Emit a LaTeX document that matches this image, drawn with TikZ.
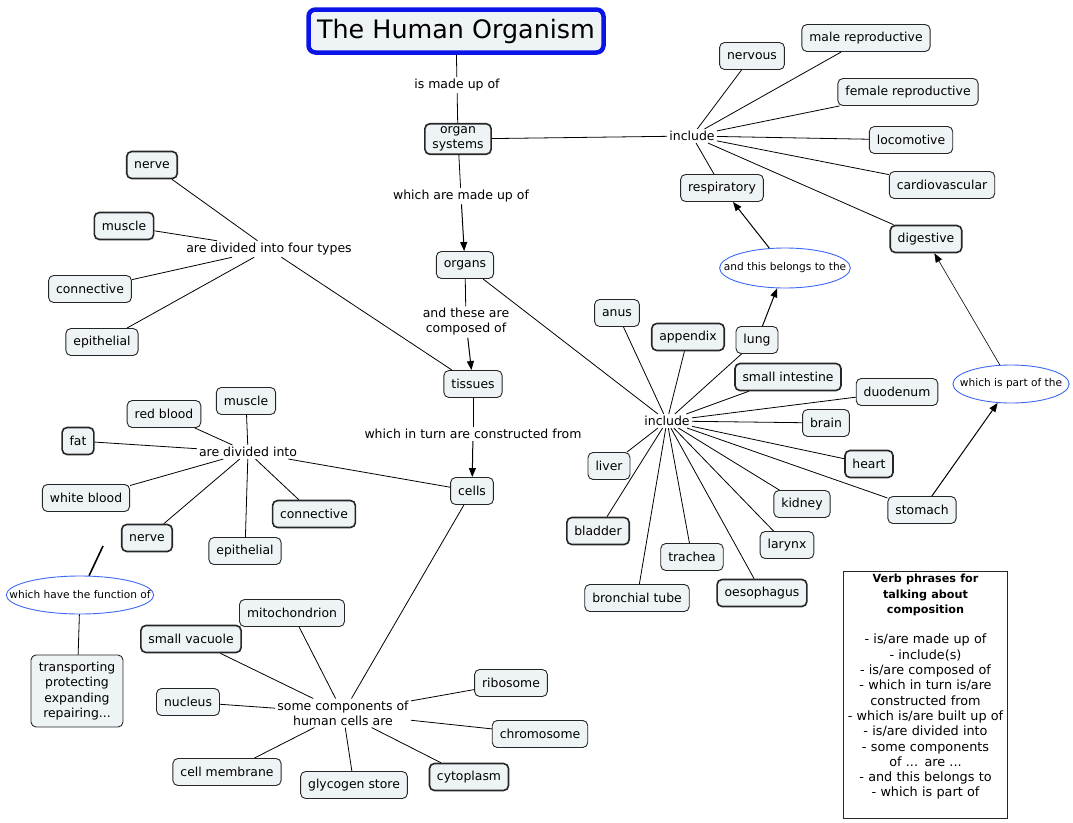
\documentclass[tikz,border=0pt]{standalone}
\usepackage{fontspec}
\setmainfont{DejaVu Sans}
\usetikzlibrary{arrows.meta,shapes.geometric}
\definecolor{boxfill}{HTML}{EEF3F6}
\definecolor{titleblue}{HTML}{0A14E6}
\definecolor{ellblue}{HTML}{3F68F2}
\begin{document}
\begin{tikzpicture}[x=1pt,y=-1pt,
  concept/.style={draw=black!85, fill=boxfill, rounded corners=5pt, line width=0.9pt,
    inner xsep=7.5pt, inner ysep=3pt, minimum height=27pt,
    font=\fontsize{12.4}{15}\selectfont, align=center},
  heavy/.style={line width=1.6pt},
  phrase/.style={inner sep=2pt, font=\fontsize{12.5}{15}\selectfont, align=center},
  ell/.style={ellipse, draw=ellblue, line width=0.9pt, inner ysep=2pt,
    font=\fontsize{10.6}{12}\selectfont},
  link/.style={line width=0.8pt},
  arr/.style={line width=1pt, -{Triangle[length=9pt,width=7pt]}},
  thinarr/.style={line width=0.6pt, -{Triangle[length=9pt,width=7pt]}},
  titlebox/.style={draw=titleblue, line width=4.5pt, fill=boxfill, rounded corners=7pt,
    minimum width=295pt, minimum height=43pt, font=\fontsize{25.4}{30}\selectfont}]
\useasboundingbox (0,0) rectangle (1073,822);

% main spine
\node[titlebox] (title) at (456,31) {The Human Organism};
\node[phrase] (p1) at (457,85) {is made up of};
\node[concept,heavy] (os) at (458,139) {organ\\systems};
\node[phrase] (p2) at (461,196) {which are made up of};
\node[concept] (organs) at (465,265) {organs};
\node[phrase] (p3) at (466,322) {and these are\\composed of};
\node[concept] (tissues) at (473,384) {tissues};
\node[phrase] (p4) at (473,434) {which in turn are constructed from};
\node[concept] (cells) at (472,491) {cells};

% organ systems
\node[phrase] (inc1) at (692,136) {include};
\node[concept] (nervous) at (752,56) {nervous};
\node[concept] (male) at (866,38) {male reproductive};
\node[concept] (female) at (908,92) {female reproductive};
\node[concept] (loco) at (911,140) {locomotive};
\node[concept] (cardio) at (942,185) {cardiovascular};
\node[concept] (resp) at (722,188) {respiratory};
\node[concept,heavy] (dig) at (926,239) {digestive};
\node[ell, inner xsep=-15pt, minimum height=40pt] (ell1) at (785,268) {and this belongs to the};
\node[ell, inner xsep=-10pt, minimum height=38pt] (ell2) at (1011,384) {which is part of the};

% organs
\node[phrase] (inc2) at (667,421) {include};
\node[concept] (anus) at (617,313) {anus};
\node[concept,heavy] (appendix) at (688,337) {appendix};
\node[concept] (lung) at (757,340) {lung};
\node[concept,heavy] (smallint) at (788,377) {small intestine};
\node[concept] (duod) at (897,392) {duodenum};
\node[concept] (brain) at (826,423) {brain};
\node[concept,heavy] (heart) at (869,464) {heart};
\node[concept] (stomach) at (922,510) {stomach};
\node[concept] (kidney) at (802,504) {kidney};
\node[concept] (larynx) at (787,545) {larynx};
\node[concept,heavy] (oeso) at (762,593) {oesophagus};
\node[concept] (trachea) at (692,557) {trachea};
\node[concept] (bronch) at (637,598) {bronchial tube};
\node[concept,heavy] (bladder) at (598,531) {bladder};
\node[concept] (liver) at (609,466) {liver};

% tissues
\node[phrase] (p5) at (269,249) {are divided into four types};
\node[concept,heavy] (tnerve) at (152,165) {nerve};
\node[concept,heavy] (tmuscle) at (124,226) {muscle};
\node[concept] (tconn) at (90,289) {connective};
\node[concept] (tepi) at (102,342) {epithelial};

% cells divided
\node[phrase] (p6) at (248,452) {are divided into};
\node[concept] (cmuscle) at (246,401) {muscle};
\node[concept] (redblood) at (164,414) {red blood};
\node[concept,heavy] (fat) at (78,441) {fat};
\node[concept] (white) at (86,498) {white blood};
\node[concept,heavy] (cnerve) at (147,538) {nerve};
\node[concept] (cepi) at (245,551) {epithelial};
\node[concept,heavy] (cconn) at (314,514) {connective};
\coordinate (stub) at (103,546);
\node[ell, inner xsep=-18.5pt, minimum height=38pt] (ell3) at (80,595) {which have the function of};
\node[concept, inner xsep=2pt, minimum width=92pt, minimum height=72pt, font=\fontsize{12.4}{15.3}\selectfont] (func) at (77,691) {transporting\\protecting\\expanding\\repairing...};

% cell components
\node[phrase] (p7) at (343,713) {some components of\\human cells are};
\node[concept] (mito) at (292,613) {mitochondrion};
\node[concept,heavy] (vacuole) at (191,639) {small vacuole};
\node[concept] (nucleus) at (188,702) {nucleus};
\node[concept] (ribo) at (511,683) {ribosome};
\node[concept] (chromo) at (540,734) {chromosome};
\node[concept] (membrane) at (227,772) {cell membrane};
\node[concept] (glyco) at (354,785) {glycogen store};
\node[concept,heavy] (cyto) at (469,777) {cytoplasm};

% legend
\node[draw=black!85, line width=1.2pt, minimum width=164pt, minimum height=247pt] (legend) at (925.5,695) {};
\node[anchor=north, inner sep=0pt, text width=164pt, align=center,
  font=\fontsize{12.8}{15.3}\selectfont] (legendtext) at (925.5,574)
  {{\fontsize{11.2}{15.3}\selectfont\bfseries Verb phrases for\\talking about\\composition}\\[15.3pt]
   - is/are made up of\\- include(s)\\- is/are composed of\\- which in turn is/are\\constructed from\\- which is/are built up of\\- is/are divided into\\- some components\\of ... are ...\\- and this belongs to\\- which is part of};

% connectors: spine
\draw[link] (title) -- (p1);
\draw[link] (p1) -- (os);
\draw[link] (os) -- (p2);
\draw[arr] (p2) -- (organs);
\draw[link] (organs) -- (p3);
\draw[arr] (p3) -- (tissues);
\draw[link] (tissues) -- (p4);
\draw[arr] (p4) -- (cells);

% organ systems
\draw[link] (os) -- (inc1);
\foreach \n in {nervous,male,female,loco,cardio,resp,dig} \draw[link] (inc1) -- (\n);
\draw[arr] (ell1) -- (resp);
\draw[arr] (lung) -- (ell1);
\draw[arr] (stomach) -- (ell2);
\draw[thinarr] (ell2) -- (dig);

% organs
\draw[link] (organs) -- (inc2);
\foreach \n in {anus,appendix,lung,smallint,duod,brain,heart,stomach,kidney,larynx,oeso,trachea,bronch,bladder,liver} \draw[link] (inc2) -- (\n);

% tissues
\draw[link] (tissues) -- (p5);
\foreach \n in {tnerve,tmuscle,tconn,tepi} \draw[link] (p5) -- (\n);

% cells
\draw[link] (cells) -- (p6);
\foreach \n in {cmuscle,redblood,fat,white,cnerve,cepi,cconn} \draw[link] (p6) -- (\n);
\draw[line width=1.6pt] (stub) -- (ell3);
\draw[link] (ell3) -- (func);

\draw[link] (cells) -- (p7);
\foreach \n in {mito,vacuole,nucleus,ribo,chromo,membrane,glyco,cyto} \draw[link] (p7) -- (\n);
\end{tikzpicture}
\end{document}
